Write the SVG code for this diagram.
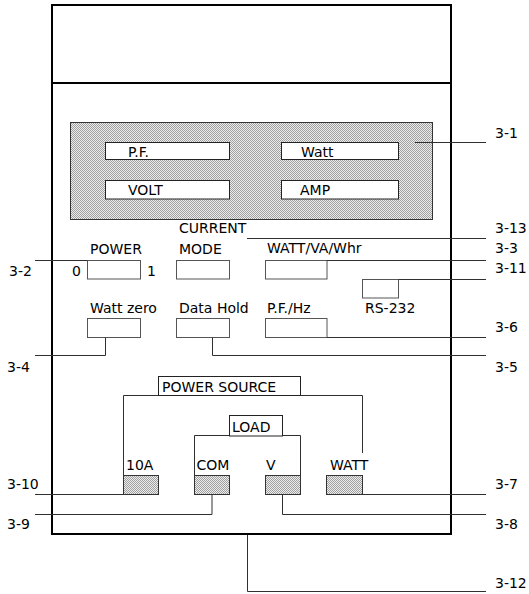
<svg xmlns="http://www.w3.org/2000/svg" width="529" height="594" viewBox="0 0 529 594">
<style>
text{font-family:"DejaVu Sans","Liberation Sans",sans-serif;font-size:14px;fill:#000}
.ln{fill:none;stroke:#303030;stroke-width:1}
.btn{fill:#fff;stroke:#555;stroke-width:1}
.box{fill:#fff;stroke:#222;stroke-width:1}
.term{fill:url(#dots);stroke:#333;stroke-width:1}
</style>
<defs>
<pattern id="dots" width="2" height="2" patternUnits="userSpaceOnUse">
<rect width="2" height="2" fill="#ececec"/>
<rect width="1" height="1" fill="#a0a0a0"/>
<rect x="1" y="1" width="1" height="1" fill="#a0a0a0"/>
</pattern>
</defs>
<rect width="529" height="594" fill="#fff"/>
<g id="housing">
<rect x="52" y="5" width="399" height="529" fill="none" stroke="#000" stroke-width="2"/>
<line x1="52" y1="83" x2="451" y2="83" stroke="#000" stroke-width="2"/>
</g>
<g id="display">
<rect x="70.5" y="122.5" width="362" height="97" fill="url(#dots)" stroke="#333"/>
<rect class="box" x="105.5" y="142.5" width="124" height="17"/>
<text x="128" y="156.5">P.F.</text>
<rect class="box" x="105.5" y="180.5" width="124" height="18.5"/>
<text x="128" y="195">VOLT</text>
<rect class="box" x="281.5" y="142.5" width="117" height="17"/>
<text x="301" y="156.5">Watt</text>
<rect class="box" x="281.5" y="180.5" width="117" height="18.5"/>
<text x="300" y="195">AMP</text>
</g>
<g id="power">
<text x="90" y="254">POWER</text>
<rect class="btn" x="87.5" y="260.5" width="53" height="18.5"/>
<text x="72" y="276">0</text>
<text x="147" y="276">1</text>
</g>
<g id="current-mode">
<text x="179" y="233">CURRENT</text>
<text x="179" y="254">MODE</text>
<rect class="btn" x="176.5" y="260.5" width="53" height="18.5"/>
</g>
<g id="watt-va-whr">
<text x="267" y="253">WATT/VA/Whr</text>
<rect class="btn" x="265.5" y="260.5" width="61.5" height="18.5"/>
</g>
<g id="rs232">
<rect class="btn" x="362.5" y="279.5" width="36" height="18.5"/>
<text x="365" y="313">RS-232</text>
</g>
<g id="watt-zero">
<text x="90" y="313">Watt zero</text>
<rect class="btn" x="87.5" y="318.5" width="53" height="19"/>
</g>
<g id="data-hold">
<text x="179" y="313">Data Hold</text>
<rect class="btn" x="176.5" y="318.5" width="53" height="19"/>
</g>
<g id="pf-hz">
<text x="267" y="313">P.F./Hz</text>
<rect class="btn" x="265.5" y="318.5" width="61.5" height="19"/>
</g>
<g id="power-source">
<rect class="box" x="158.5" y="376.5" width="142" height="19"/>
<text x="162" y="391.5">POWER SOURCE</text>
</g>
<g id="load">
<rect class="box" x="229.5" y="415.5" width="53" height="20.5"/>
<text x="232" y="431.5">LOAD</text>
</g>
<g id="terminal-10a">
<text x="126" y="470">10A</text>
<rect class="term" x="123.5" y="475.5" width="35" height="19"/>
</g>
<g id="terminal-com">
<text x="196.5" y="470">COM</text>
<rect class="term" x="194.5" y="475.5" width="35" height="19"/>
</g>
<g id="terminal-v">
<text x="266" y="470">V</text>
<rect class="term" x="265.5" y="475.5" width="35" height="19"/>
</g>
<g id="terminal-watt">
<text x="330" y="470">WATT</text>
<rect class="term" x="326.5" y="475.5" width="36" height="19"/>
</g>
<g id="connectors">
<path class="ln" d="M415 142.5H486"/>
<path class="ln" d="M247 238.5H486"/>
<path class="ln" d="M327 260.5H486"/>
<path class="ln" d="M35 260.5H87.5"/>
<path class="ln" d="M398.5 279.5H486"/>
<path class="ln" d="M327 337.5H486"/>
<path class="ln" d="M105.5 337.5V355.5H35"/>
<path class="ln" d="M212.5 337.5V355.5H486"/>
<path class="ln" d="M35 494.5H123.5"/>
<path class="ln" d="M362.5 494.5H486"/>
<path class="ln" d="M212 494.5V514.5H35"/>
<path class="ln" d="M282.5 494.5V514.5H486"/>
<path class="ln" d="M247.5 535V591.5H486"/>
<path class="ln" d="M123.5 475.5V395.5H158.5"/>
<path class="ln" d="M300.5 395.5H362.5V453"/>
<path class="ln" d="M194.5 475.5V435.5H229.5"/>
<path class="ln" d="M282.5 435.5H300.5V475.5"/>
</g>
<g id="labels">
<text x="495" y="138">3-1</text>
<text x="495" y="233">3-13</text>
<text x="495" y="253">3-3</text>
<text x="495" y="273">3-11</text>
<text x="495" y="332">3-6</text>
<text x="495" y="372">3-5</text>
<text x="495" y="489">3-7</text>
<text x="495" y="529">3-8</text>
<text x="495" y="588">3-12</text>
<text x="9" y="276">3-2</text>
<text x="7" y="372">3-4</text>
<text x="7" y="489">3-10</text>
<text x="7" y="529">3-9</text>
</g>
</svg>
